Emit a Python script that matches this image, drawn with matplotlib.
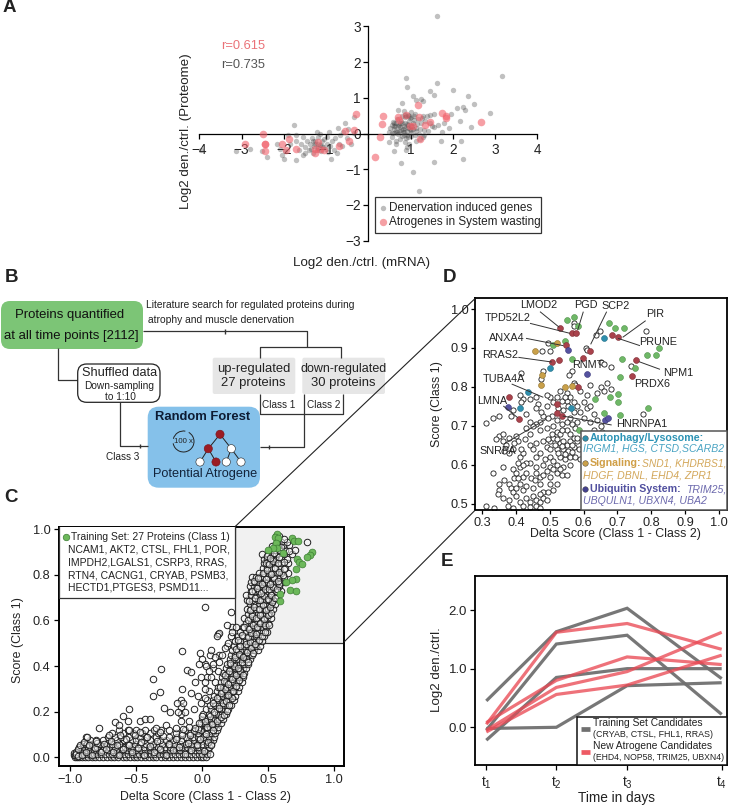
import matplotlib
matplotlib.use("Agg")
import matplotlib.pyplot as plt
from matplotlib.patches import FancyBboxPatch, Rectangle, Circle, Arc
import numpy as np

plt.rcParams['font.family'] = ['Liberation Sans', 'DejaVu Sans']
plt.rcParams['mathtext.default'] = 'regular'
W, H = 731, 806

# ---------- panel A ----------
a_gray = [(1.62,3.28),(3.17,1.62),(0.9,1.56),(1.63,1.42),(0.92,1.29),(1.47,1.2),(1.55,1.07),(2.0,1.22),(2.35,1.04),(2.5,0.83),
(2.25,0.74),(2.1,0.72),(2.28,0.65),(2.88,0.56),(2.18,0.35),(2.42,0.17),(1.05,1.06),(1.12,0.95),(1.25,0.97),(1.3,0.9),
(0.8,0.85),(0.7,0.66),(0.85,0.62),(1.0,0.6),(1.1,0.55),(1.3,0.5),(1.45,0.52),(1.55,0.55),(1.95,0.55),(1.65,0.25),
(1.5,0.2),(1.8,0.3),(1.9,0.15),(1.75,0.05),(1.72,-0.2),(2.2,-0.2),(2.25,-0.7),(1.55,-0.8),(0.78,-0.83),(1.05,-1.08),
(1.2,-1.62),(0.6,-0.5),(0.9,-0.45),(0.5,-0.25),(0.65,-0.3),(0.5,0.05),(0.52,0.15),(0.55,0.25),(0.58,0.33),(0.6,0.02),
(0.62,0.12),(0.63,0.22),(0.65,0.3),(0.68,0.4),(0.7,-0.02),(0.72,0.08),(0.74,0.18),(0.75,0.28),(0.77,0.36),(0.79,0.5),
(0.8,-0.06),(0.82,0.03),(0.83,0.12),(0.85,0.22),(0.86,0.3),(0.87,0.45),(0.88,0.52),(0.9,-0.12),(0.91,-0.03),(0.92,0.06),
(0.93,0.15),(0.95,0.25),(0.96,0.35),(0.97,0.5),(0.98,0.44),(1.0,-0.08),(1.01,0.02),(1.02,0.1),(1.04,0.2),(1.05,0.3),
(1.07,0.38),(1.08,0.5),(1.1,-0.04),(1.12,0.06),(1.14,0.16),(1.15,0.26),(1.17,0.4),(1.2,0.0),(1.22,0.12),(1.25,0.28),
(1.27,0.42),(1.3,-0.1),(1.32,0.1),(1.35,0.35),(1.38,0.48),(1.42,0.08),(1.45,0.28),(1.55,0.18),(0.55,-0.1),(0.66,-0.2),
(0.76,-0.16),(0.86,-0.25),(0.97,-0.3),(1.12,-0.2),(1.23,-0.15),(1.33,-0.05),(0.92,-0.38),(-3.95,-0.45),(-3.13,-0.5),(-2.8,-0.43),
(-2.52,-0.5),(-2.4,-0.65),(-2.15,-0.28),(-2.1,-0.42),(-2.05,-0.6),(-2.0,-0.7),(-1.9,-0.05),(-1.75,0.25),(-1.7,-0.2),(-1.7,-0.75),
(-1.85,-0.3),(-1.65,-0.45),(-1.6,-0.3),(-1.7,-0.05),(-1.55,-0.1),(-1.5,-0.55),(-1.5,-0.38),(-1.45,-0.2),(-1.4,-0.45),(-1.38,-0.3),
(-1.33,-0.12),(-1.3,-0.55),(-1.28,-0.35),(-1.25,-0.2),(-1.22,-0.45),(-1.2,-0.1),(-1.18,-0.3),(-1.15,-0.02),(-1.12,-0.48),(-1.1,-0.22),
(-1.08,-0.38),(-1.05,-0.15),(-1.0,-0.42),(-0.98,-0.28),(-0.97,-0.1),(-0.95,-0.52),(-0.92,0.05),(-0.9,-0.35),(-0.88,-0.72),(-0.85,-0.2),
(-0.8,-0.45),(-0.78,-0.12),(-0.75,-0.55),(-0.72,0.15),(-0.7,-0.28),(-0.67,-0.05),(-0.62,-0.35),(-0.6,0.05),(-0.55,0.28),(-0.5,-0.12),
(-0.48,0.12),(-0.42,-0.28),(-0.35,0.45),(-0.35,0.02),(-1.22,0.05),(-1.55,-0.6),(-1.98,-0.5),
(0.62,0.3),(0.66,0.08),(0.7,0.2),(0.8,0.3),(0.85,0.05),(0.88,0.14),(0.9,0.48),(0.95,0.53),(0.98,0.12),(1.0,0.22),
(0.72,0.25),(0.78,0.1),(0.92,0.26),(1.02,0.46),(1.06,0.12),(0.68,0.05),(0.84,-0.03),(0.95,-0.1),(0.6,0.2),(0.56,0.02),
(-1.25,-0.3),(-1.3,-0.2),(-1.2,-0.4),(-1.15,-0.32),(-1.35,-0.42),(-1.1,-0.36)]
a_red = [(2.67,0.33),(1.83,0.5),(1.85,0.43),(1.75,0.56),(1.18,0.8),(1.2,0.47),(1.45,0.33),(1.35,0.25),(1.05,0.22),(0.98,0.2),
(0.72,0.38),(0.7,0.45),(0.9,0.52),(0.35,0.5),(0.32,0.27),(0.28,-0.1),(0.16,-0.67),(1.22,-0.15),(-0.29,0.55),(-0.35,0.1),
(-0.55,0.08),(-0.45,-0.2),(-0.7,-0.36),(-1.25,-0.55),(-1.25,-0.42),(-1.2,-0.25),(-1.15,-0.42),(-1.7,-0.42),(-1.87,-0.15),(-2.05,-0.3),
(-2.45,-0.28),(-2.45,-0.5),(-2.45,-0.28),(-2.5,0.0),(-2.93,-0.3),(-1.95,-0.45),(-1.05,-0.45)]
a_ticks = [-4,-3,-2,-1,0,1,2,3,4]
a_yticks = [-3,-2,-1,0,1,2,3]

# ---------- panel C ----------
c_levels = [0.003,0.016,0.03,0.045,0.06,0.075,0.09,0.105,0.12,0.135,0.15,0.17,0.19,0.21,0.23,0.25,0.27,0.29,0.31,0.33,0.35,0.37,0.39,0.41,
0.43,0.45,0.47,0.49,0.51,0.53,0.55,0.57,0.59,0.61,0.63,0.65,0.67,0.69,0.71,0.73,0.75,0.77,0.79,0.81,0.83,0.85,0.87,0.89,0.91,0.93,0.945,0.97]
c_rows = [
[-0.96,-0.945,-0.93,-0.91,-0.885,-0.86,-0.83,-0.805,-0.775,-0.75,-0.72,-0.69,-0.665,-0.635,-0.6,-0.575,-0.545,-0.515,-0.49,-0.46,-0.43,-0.4,-0.37,-0.345,-0.31,-0.28,-0.25,-0.22,-0.19,-0.16,-0.13,-0.1,-0.07,-0.04,-0.01,0.01,0.03],
[-0.955,-0.925,-0.9,-0.87,-0.845,-0.815,-0.79,-0.76,-0.735,-0.7,-0.68,-0.65,-0.62,-0.59,-0.56,-0.53,-0.5,-0.475,-0.445,-0.415,-0.385,-0.36,-0.325,-0.295,-0.265,-0.235,-0.205,-0.175,-0.145,-0.115,-0.085,-0.055,-0.025,0.0,0.04],
[-0.94,-0.91,-0.88,-0.85,-0.82,-0.78,-0.755,-0.71,-0.67,-0.64,-0.605,-0.57,-0.54,-0.5,-0.46,-0.43,-0.39,-0.35,-0.31,-0.27,-0.24,-0.2,-0.17,-0.13,-0.09,-0.05,-0.02,0.02,0.045],
[-0.93,-0.895,-0.86,-0.82,-0.79,-0.74,-0.7,-0.66,-0.61,-0.58,-0.53,-0.48,-0.44,-0.4,-0.36,-0.33,-0.28,-0.24,-0.19,-0.15,-0.11,-0.06,-0.03,0.01,0.05],
[-0.9,-0.87,-0.83,-0.77,-0.72,-0.68,-0.63,-0.56,-0.51,-0.47,-0.42,-0.37,-0.3,-0.26,-0.21,-0.17,-0.12,-0.08,-0.04,0.0,0.04,0.07],
[-0.85,-0.8,-0.75,-0.7,-0.64,-0.59,-0.53,-0.5,-0.44,-0.39,-0.32,-0.27,-0.22,-0.16,-0.1,-0.06,-0.02,0.03,0.06,0.08],
[-0.88,-0.71,-0.66,-0.61,-0.55,-0.47,-0.42,-0.35,-0.25,-0.19,-0.12,-0.07,-0.03,0.01,0.05,0.09],
[-0.68,-0.6,-0.52,-0.45,-0.39,-0.33,-0.2,-0.15,-0.09,-0.03,0.02,0.07,0.1],
[-0.63,-0.56,-0.5,-0.36,-0.31,-0.13,-0.06,-0.01,0.04,0.08,0.11],
[-0.1,-0.02,0.03,0.06,0.09,0.12],
[-0.01,0.02,0.05,0.08,0.11,0.14],
[0.0,0.04,0.07,0.1,0.13,0.16],
[0.01,0.05,0.09,0.12,0.15,0.18],
[0.03,0.07,0.11,0.14,0.17,0.2],
[0.06,0.1,0.13,0.16,0.19,0.22],
[0.04,0.08,0.12,0.15,0.18,0.21,0.24],
[0.09,0.13,0.16,0.19,0.22,0.25],
[0.05,0.11,0.15,0.18,0.21,0.24,0.27],
[0.12,0.16,0.19,0.22,0.25,0.28],
[0.1,0.14,0.18,0.21,0.24,0.27,0.3],
[0.04,0.15,0.19,0.22,0.25,0.28,0.31],
[0.16,0.2,0.23,0.26,0.29,0.32],
[0.08,0.18,0.21,0.25,0.28,0.31,0.33],
[0.02,0.19,0.22,0.26,0.29,0.32,0.35],
[0.21,0.24,0.27,0.3,0.33,0.36],
[0.06,0.13,0.22,0.25,0.29,0.32,0.35,0.38],
[0.23,0.27,0.3,0.33,0.36,0.39,0.42],
[0.19,0.24,0.28,0.32,0.35,0.38,0.41,0.44],
[0.25,0.29,0.33,0.36,0.39,0.42,0.45],
[0.22,0.27,0.31,0.35,0.38,0.41,0.44,0.47],
[0.29,0.33,0.37,0.4,0.43,0.46,0.49],
[0.23,0.26,0.31,0.35,0.39,0.42,0.45,0.48],
[0.33,0.37,0.4,0.44,0.47,0.5],
[0.32,0.36,0.39,0.42,0.46,0.49,0.52],
[0.35,0.38,0.42,0.45,0.48,0.51],
[0.34,0.37,0.41,0.44,0.47,0.5,0.54],
[0.36,0.39,0.43,0.46,0.49,0.52,0.55],
[0.34,0.38,0.42,0.45,0.48,0.51,0.54],
[0.33,0.37,0.41,0.44,0.47,0.5,0.53,0.57],
[0.37,0.4,0.43,0.46,0.49,0.52,0.56,0.6],
[0.36,0.39,0.42,0.45,0.48,0.51,0.54,0.58],
[0.37,0.4,0.43,0.47,0.5,0.53,0.56,0.6,0.63],
[0.38,0.41,0.44,0.47,0.5,0.54,0.58,0.62],
[0.43,0.47,0.5,0.53,0.56,0.6,0.65],
[0.46,0.49,0.52,0.55,0.59,0.63],
[0.47,0.5,0.54,0.57,0.6,0.65],
[0.47,0.49,0.52,0.56,0.6,0.64],
[0.45,0.5,0.53,0.56,0.62,0.68],
[0.52,0.55,0.58,0.63,0.7],
[0.55,0.58,0.62,0.66],
[0.6,0.64,0.79],
[0.56,0.58]]
c_sparse = [(0.02,0.66),(0.22,0.635),(0.12,0.54),(0.13,0.545),(0.115,0.53),(-0.153,0.465),(-0.31,0.386),(-0.37,0.342),(-0.11,0.383),(-0.083,0.373),
(-0.37,0.27),(-0.315,0.285),(-0.15,0.3),(-0.08,0.28),(-0.55,0.213),(-0.594,0.18),(-0.557,0.16),(-0.78,0.13),(-0.657,0.153),(-0.625,0.142),
(-0.47,0.16),(-0.43,0.167),(-0.39,0.17),(-0.29,0.215),(-0.24,0.2),(-0.16,0.25),(-0.16,0.22),(-0.16,0.19),(-0.16,0.16),(-0.14,0.24),
(-0.13,0.2),(-0.18,0.2),(-0.19,0.24),(-0.015,0.456),(0.0,0.43),(-0.02,0.41),(0.03,0.4),(-0.01,0.35),(0.02,0.33),(0.05,0.38),
(0.07,0.35),(0.08,0.41),(0.02,0.3),(-0.03,0.27),(-0.01,0.24),(0.02,0.26),(-0.05,0.33),(0.07,0.47),(0.1,0.44),(0.13,0.42),
(0.15,0.45),(0.12,0.38),(0.17,0.48),(0.2,0.5),(0.19,0.58),(0.23,0.55),(-0.87,0.09),(-0.8,0.07),(-0.27,0.14),(-0.2,0.13),
(-0.1,0.16),(-0.05,0.13),(0.0,0.18),(-0.06,0.21),(-0.02,0.15),(-0.25,0.12),(-0.35,0.13),(-0.32,0.11),(-0.55,0.12),(-0.47,0.11)]
c_floor_extra = [(-0.97,0.012),(-0.965,0.02),(-0.96,0.01),(-0.955,0.024),(-0.95,0.016),(-0.94,0.008),(-0.94,0.038),(-0.925,0.052),(-0.905,0.012),(-0.89,0.068),
(-0.875,0.025),(-0.852,0.055),(-0.835,0.012),(-0.812,0.04),(-0.795,0.062),(-0.765,0.022),(-0.742,0.058),(-0.725,0.036),(-0.69,0.07),(-0.672,0.024),
(-0.645,0.052),(-0.625,0.012),(-0.598,0.036),(-0.578,0.082),(-0.552,0.056),(-0.53,0.022),(-0.508,0.098),(-0.485,0.042),(-0.46,0.068),(-0.438,0.012),
(-0.412,0.088),(-0.392,0.048),(-0.365,0.022),(-0.342,0.072),(-0.318,0.038),(-0.292,0.092),(-0.27,0.012),(-0.248,0.058),(-0.222,0.03),(-0.198,0.08),
(-0.175,0.044),(-0.15,0.098),(-0.128,0.014),(-0.105,0.064),(-0.082,0.034),(-0.06,0.114),(-0.038,0.052),(-0.012,0.082),(0.012,0.028),(0.028,0.104),
(0.045,0.066),(0.058,0.016),(0.068,0.052),(0.085,0.122),(-0.09,0.1),(-0.03,0.125),(-0.14,0.125),(-0.7,0.1),(-0.62,0.098),(-0.43,0.118)]
c_band_extra = [(0.04,0.135),(0.075,0.144),(0.11,0.16),(0.14,0.178),(0.165,0.186),(0.19,0.205),(0.025,0.16),(0.06,0.18),(0.09,0.2),(0.125,0.218),
(0.155,0.236),(0.18,0.246),(0.205,0.228),(0.225,0.262),(0.08,0.236),(0.115,0.26),(0.145,0.282),(0.17,0.3),(0.2,0.272),(0.235,0.292),
(0.255,0.312),(0.28,0.338),(0.135,0.31),(0.165,0.336),(0.195,0.322),(0.225,0.342),(0.26,0.362),(0.29,0.378),(0.31,0.362),(0.175,0.36),
(0.205,0.38),(0.24,0.4),(0.27,0.392),(0.3,0.416),(0.33,0.432),(0.345,0.418),(0.215,0.415),(0.25,0.438),(0.28,0.452),(0.31,0.44),
(0.34,0.462),(0.37,0.478),(0.385,0.458),(0.26,0.474),(0.29,0.49),(0.33,0.496),(0.365,0.506),(0.4,0.498),(0.43,0.514),(0.27,0.516),
(0.305,0.536),(0.345,0.528),(0.37,0.546),(0.41,0.54),(0.45,0.532),(0.475,0.548),(0.32,0.57),(0.355,0.562),(0.385,0.582),(0.415,0.57),
(0.44,0.59),(0.475,0.582),(0.505,0.578),(0.345,0.602),(0.38,0.618),(0.41,0.61),(0.44,0.622),(0.47,0.606),(0.5,0.622),(0.52,0.634),
(0.36,0.646),(0.395,0.66),(0.43,0.652),(0.46,0.668),(0.485,0.644),(0.515,0.66),(0.53,0.68),(0.355,0.686),(0.4,0.7),(0.435,0.688),
(0.465,0.706),(0.495,0.694),(0.525,0.712),(0.555,0.7),(0.38,0.728),(0.415,0.744),(0.445,0.722),(0.475,0.74),(0.505,0.736),(0.54,0.746),
(0.57,0.74),(0.585,0.762),(0.39,0.772),(0.42,0.786),(0.455,0.762),(0.485,0.78),(0.515,0.76),(0.545,0.784),(0.575,0.772),(0.61,0.798),
(0.46,0.806),(0.49,0.822),(0.525,0.804),(0.555,0.828),(0.585,0.812),(0.62,0.826),(0.48,0.852),(0.51,0.846),(0.54,0.862),(0.575,0.85),
(0.62,0.858),(0.49,0.884),(0.515,0.872),(0.545,0.896),(0.58,0.88),(0.6,0.92),(0.655,0.905),(0.53,0.925),(0.565,0.945),(0.62,0.955)]
c_green = [(.564,.978),(.552,.968),(.577,.96),(.559,.939),(.569,.917),(.539,.917),(.501,.909),(.61,.895),(.683,.963),(.698,.95),
(.728,.95),(.829,.899),(.816,.885),(.791,.88),(.715,.87),(.735,.858),(.758,.848),(.71,.826),(.71,.782),(.678,.778),
(.635,.77),(.589,.716),(.665,.734),(.71,.727),(.589,.687)]
c_text = ["Training Set: 27 Proteins (Class 1)", "NCAM1, AKT2, CTSL, FHL1, POR,", "IMPDH2,LGALS1, CSRP3, RRAS,",
          "RTN4, CACNG1, CRYAB, PSMB3,", "HECTD1,PTGES3, PSMD11..."]

# ---------- panel D ----------
d_green = [(.552,.971),(.572,.979),(.584,.956),(.676,.963),(.693,.95),(.72,.95),(.823,.899),(.813,.882),(.787,.881),(.713,.871),
(.752,.848),(.708,.826),(.565,.872),(.546,.919),(.508,.908),(.634,.769),(.678,.775),(.703,.782),(.703,.762),(.66,.732),
(.709,.728),(.792,.746),(.587,.689)]
d_red = [(.53,.951),(.565,.9375),(.577,.9375),(.684,.933),(.702,.927),(.619,.891),(.599,.873),(.547,.907),(.506,.864),(.528,.869),
(.754,.869),(.743,.827),(.584,.8),(.379,.775),(.407,.718),(.522,.756),(.52,.732),(.537,.726)]
d_teal = [(.66,.926),(.501,.848),(.434,.788),(.41,.746),(.562,.746)]
d_gold = [(.52,.912),(.455,.893),(.477,.83),(.473,.804),(.546,.8),(.564,.803)]
d_purple = [(.555,.896),(.611,.832),(.376,.749),(.663,.715),(.671,.721)]
d_open = [(.57,.963),(.572,.957),(.636,.933),(.648,.944),(.785,.944),(.495,.912),(.478,.891),(.501,.891),(.606,.901),(.609,.895),
(.652,.863),(.66,.86),(.681,.852),(.739,.854),(.414,.837),(.564,.842),(.556,.83),(.48,.84),(.475,.82),(.57,.81),
(.575,.805),(.62,.805),(.65,.8),(.66,.79),(.67,.81),(.68,.795),(.64,.785),(.61,.78),(.59,.79),(.55,.785),
(.53,.79),(.52,.775),(.5,.775),(.49,.78),(.46,.775),(.44,.77),(.42,.77),(.415,.76),(.41,.78),(.465,.755),
(.46,.745),(.49,.75),(.43,.73),(.385,.725),(.39,.74),(.33,.72),(.35,.725),(.31,.708),(.55,.765),(.56,.775),
(.57,.76),(.58,.75),(.6,.76),(.61,.745),(.62,.75),(.59,.735),(.6,.72),(.63,.73),(.62,.71),(.64,.715),
(.65,.7),(.58,.71),(.56,.72),(.54,.74),(.505,.725),(.495,.72),(.51,.7),(.47,.71),(.46,.705),(.45,.7),
(.43,.695),(.44,.68),(.47,.69),(.49,.695),(.52,.685),(.53,.68),(.55,.69),(.56,.68),(.575,.695),(.6,.68),
(.63,.69),(.655,.685),(.775,.73),(.35,.675),(.36,.68),(.34,.665),(.36,.66),(.38,.67),(.4,.675),(.37,.65),
(.39,.64),(.38,.63),(.41,.62),(.42,.63),(.44,.65),(.46,.655),(.45,.64),(.48,.66),(.5,.66),(.51,.67),
(.52,.665),(.53,.655),(.54,.66),(.55,.65),(.56,.66),(.57,.67),(.58,.66),(.49,.645),(.5,.64),(.52,.64),
(.54,.64),(.555,.635),(.57,.645),(.585,.64),(.47,.63),(.46,.62),(.485,.615),(.5,.62),(.51,.61),(.53,.62),
(.545,.615),(.56,.62),(.575,.62),(.59,.615),(.44,.605),(.46,.595),(.48,.6),(.5,.595),(.52,.6),(.54,.595),
(.56,.6),(.33,.58),(.36,.595),(.39,.59),(.41,.595),(.4,.58),(.395,.565),(.42,.57),(.43,.58),(.46,.58),
(.47,.57),(.48,.575),(.5,.57),(.52,.58),(.535,.575),(.55,.575),(.35,.55),(.35,.535),(.38,.55),(.385,.54),
(.39,.53),(.4,.54),(.41,.55),(.42,.535),(.43,.545),(.45,.54),(.47,.55),(.48,.53),(.5,.55),(.51,.535),
(.52,.55),(.345,.525),(.36,.515),(.4,.52),(.38,.51),(.41,.505),(.43,.515),(.44,.505),(.45,.52),(.46,.51),
(.47,.505),(.48,.515),(.49,.51),(.31,.495),(.335,.49),(.375,.495),(.39,.49),(.42,.495),(.44,.492),(.46,.495),(.47,.49),
(.535,.648),(.545,.628),(.525,.63),(.515,.652),(.565,.65),(.565,.632),(.58,.67),(.505,.68),(.495,.665),(.535,.69),
(.52,.715),(.535,.705),(.55,.71),(.565,.705),(.57,.735),(.555,.75),(.535,.765),(.545,.775),(.51,.76),(.525,.745),
(.48,.725),(.44,.71),(.475,.735),(.405,.66),(.395,.655),(.425,.665),(.415,.64),(.365,.635),(.43,.605),(.42,.6),
(.405,.605),(.445,.565),(.455,.56),(.49,.585),(.51,.59),(.53,.59),(.405,.565),(.365,.56),(.47,.525),(.495,.53)]
d_labels = ["LMOD2","PGD","SCP2","PIR","PRUNE","TPD52L2","ANXA4","RRAS2","RNMT","NPM1","PRDX6","TUBA4A","LMNA","HNRNPA1","SNRPA"]

# ---------- panel E ----------
e_t = [0, 1, 2.01, 3.36]
e_tlabels = ["t$_1$","t$_2$","t$_3$","t$_4$"]
e_gray = [[0.45,1.63,2.03,0.83],[-0.05,1.42,1.57,0.22],[-0.22,0.85,1.0,1.0],[-0.02,0.0,0.71,0.76]]
e_red = [[0.05,1.62,1.77,1.33],[0.08,0.8,1.2,1.07],[-0.05,0.68,0.95,1.62],[-0.08,0.56,0.72,1.23]]

TICK = 9.2
LAB = 8.95

fig = plt.figure(figsize=(W/100, H/100), dpi=100, facecolor='white')
def box(x0, y0, x1, y1, **k):
    return fig.add_axes([x0/W, 1-y1/H, (x1-x0)/W, (y1-y0)/H], **k)

# overlay in pixel coordinates
ov = fig.add_axes([0,0,1,1], zorder=10)
ov.set_xlim(0,W); ov.set_ylim(H,0); ov.axis('off'); ov.patch.set_alpha(0)
def T(x,y,s,size=8.7,ha='center',va='center',**k):
    return ov.text(x,y,s,fontsize=size,ha=ha,va=va,**k)
def L(xs,ys,c='#333333',lw=0.9,**k):
    ov.plot(xs,ys,color=c,lw=lw,solid_capstyle='butt',**k)

for s,x,y in [("A",9,8),("B",11,278),("C",11,498),("D",450,277),("E",447,561)]:
    T(x,y,s,size=13.5,fontweight='bold',color='#222222')

# ---- A ----
ax = box(199.3,26.3,537.3,240.7)
ax.set_xlim(-4,4); ax.set_ylim(-3,3); ax.patch.set_alpha(0)
for s in ('top','right'): ax.spines[s].set_visible(False)
ax.spines['left'].set_position('zero'); ax.spines['bottom'].set_position('zero')
for s in ('left','bottom'): ax.spines[s].set_linewidth(0.9)
ax.set_xticks(a_ticks); ax.set_yticks(a_yticks)
ax.set_xticklabels([str(v).replace('-','\u2212') if v else '' for v in a_ticks])
ax.set_yticklabels([str(v).replace('-','\u2212') for v in a_yticks])
ax.tick_params(labelsize=9.8,length=3.5,width=0.9,pad=2,labelcolor='#222222')
ax.tick_params(axis='x',pad=3.5)
g = np.array(a_gray); r = np.array(a_red)
ax.scatter(g[:,0],g[:,1],s=15,color='#3c3c3c',alpha=.32,lw=0,clip_on=False,zorder=3)
ax.scatter(r[:,0],r[:,1],s=30,color='#f0606a',alpha=.6,lw=0,clip_on=False,zorder=4)
T(362,263,"Log2 den./ctrl. (mRNA)",size=9.6,color='#222222')
T(186,131,"Log2 den./ctrl. (Proteome)",size=9.6,rotation=90,color='#222222')
T(221.5,46,"r=0.615",size=9.3,ha='left',color='#ea7278')
T(221.5,64.5,"r=0.735",size=9.3,ha='left',color='#555555')
ov.add_patch(Rectangle((374.5,196.7),166,36.6,fc='white',ec='#333333',lw=0.9,zorder=2))
ov.scatter([383.3],[207.7],s=15,color='#bdbdbd',lw=0,zorder=3)
ov.scatter([383.3],[222.3],s=28,color='#f5a0a4',lw=0,zorder=3)
T(389.3,207.7,"Denervation induced genes",size=8.45,ha='left',zorder=3,color='#222222')
T(389.3,222.3,"Atrogenes in System wasting",size=8.45,ha='left',zorder=3,color='#222222')

# ---- B ----
ov.add_patch(FancyBboxPatch((8,308),128,34,boxstyle="round,pad=7,rounding_size=9",fc='#7cc576',ec='none',zorder=1))
T(70,315,"Proteins quantified",size=9.45,color='#111111',zorder=3)
T(71.5,335.5,"at all time points [2112]",size=9.45,color='#111111',zorder=3)
T(145.5,305.5,"Literature search for regulated proteins during",size=7.4,ha='left',color='#222222')
T(148.5,320,"atrophy and muscle denervation",size=7.4,ha='left',color='#222222')
L([143,306.7,306.7],[331,331,346.7])
L([260,260,341,341],[358,346.7,346.7,358])
L([225,225],[328.5,333.5],lw=1)
for (x0,x1) in [(212.7,295.3),(302.3,385)]:
    ov.add_patch(FancyBboxPatch((x0+2,359.7),x1-x0-4,32.3,boxstyle="round,pad=2,rounding_size=2",fc='#e6e6e6',ec='none',zorder=1))
T(253.5,369,"up-regulated",size=9.4,color='#222222',zorder=3)
T(253.5,383,"27 proteins",size=9.4,color='#222222',zorder=3)
T(343.5,369,"down-regulated",size=9.0,color='#222222',zorder=3)
T(343.5,383,"30 proteins",size=9.4,color='#222222',zorder=3)
L([260,260,343,343],[394,414,414,394])
L([304.3,304.3,260],[394,446.7,446.7])
L([269,269],[444.5,449],lw=1)
T(279,405,"Class 1",size=7.2,color='#222222',zorder=3)
T(324,405,"Class 2",size=7.2,color='#222222',zorder=3)
L([58.3,58.3,78],[348,380.3,380.3])
ov.add_patch(FancyBboxPatch((85.7,372),66.3,22.3,boxstyle="round,pad=8,rounding_size=9",fc='white',ec='#222222',lw=0.9,zorder=2))
T(120,373,"Shuffled data",size=9.2,zorder=3,color='#222222')
T(119,386,"Down-sampling",size=7.3,zorder=3,color='#222222')
T(120.3,397,"to 1:10",size=7.3,zorder=3,color='#222222')
L([120.3,120.3,148],[402,446,446])
L([140,140],[443.8,448.2],lw=1)
T(123,457,"Class 3",size=7.2,color='#222222')
ov.add_patch(FancyBboxPatch((157.7,416.7),92.3,61,boxstyle="round,pad=10,rounding_size=11",fc='#85c1ea',ec='none',zorder=1))
T(203,417,"Random Forest",size=9.4,fontweight='bold',color='#0d1b33',zorder=3)
T(204.7,473.7,"Potential Atrogene",size=9.2,color='#12233a',zorder=3)
nodes = [(220,434.3,1),(208.3,448.7,1),(231.3,448.7,0),(200,462,0),(216,462,1),(226.3,462,0),(241,462,0)]
for a,b in [(0,1),(0,2),(1,3),(1,4),(2,5),(2,6)]:
    L([nodes[a][0],nodes[b][0]],[nodes[a][1],nodes[b][1]],c='#222222',lw=0.7,zorder=2)
for x,y,f in nodes:
    ov.add_patch(Circle((x,y),4.1,fc='#9b1c24' if f else 'white',ec='#222222' if not f else '#7a1018',lw=0.4,zorder=3))
ov.add_patch(Arc((183.5,441.5),21,21,theta1=-60,theta2=170,ec='#222222',lw=0.7,zorder=3))
ov.add_patch(Arc((183.5,441.5),21,21,theta1=195,theta2=280,ec='#222222',lw=0.7,zorder=3))
T(183.5,441.5,"100 x",size=5.6,zorder=3,color='#222222')

# ---- C ----
ax = box(58.7,526.7,344,766)
ax.set_xlim(-1.083,1.073); ax.set_ylim(-0.038,1.011)
ax.add_patch(Rectangle((0.249,0.5),1,0.6,fc='#f1f1f1',ec='#333333',lw=0.9,zorder=0))
cx = [x for y,row in zip(c_levels,c_rows) for x in row]
cy = [y for y,row in zip(c_levels,c_rows) for x in row]
kwc = dict(s=22,fc=(0.97,0.97,0.97,.5),ec='#1f1f1f',lw=0.7,zorder=2)
ax.scatter(cx,cy,**kwc)
for pts in (c_floor_extra,c_band_extra,c_sparse):
    p = np.array(pts)
    ax.scatter(p[:,0],p[:,1],**kwc)
gc = np.array(c_green)
ax.scatter(gc[:,0],gc[:,1],s=24,fc='#6cb85a',ec='#3c7d33',lw=0.5,zorder=3)
ax.add_patch(Rectangle((-1.083,0.7),1.332,0.4,fc='white',ec='#333333',lw=0.9,zorder=4))
ax.set_xticks([-1,-.5,0,.5,1]); ax.set_xticklabels(['\u22121.0','\u22120.5','0.0','0.5','1.0'])
ax.set_yticks([0,.2,.4,.6,.8,1]); ax.set_yticklabels(['0.0','0.2','0.4','0.6','0.8','1.0'])
ax.tick_params(labelsize=TICK,length=3.5,width=0.9,pad=2.5,labelcolor='#222222')
for sp in ax.spines.values(): sp.set_linewidth(1.4)
T(18.3,640,"Score (Class 1)",size=LAB,rotation=90,color='#222222')
T(205.7,797.3,"Delta Score (Class 1 - Class 2)",size=LAB,color='#222222')
ov.scatter([65.7],[537.3],s=22,fc='#6cb85a',ec='#3c7d33',lw=0.5,zorder=5)
for i,(t,y) in enumerate(zip(c_text,[537.3,549.7,562.3,575,587.7])):
    T(71.3 if i==0 else 68.3,y,t,size=7.5,ha='left',color='#222222')

# ---- connectors ----
L([235,475.3],[526.7,298.3],c='#222222',lw=0.8,zorder=1)
L([344,475.3],[642,510],c='#222222',lw=0.8,zorder=1)

# ---- D ----
ax = box(475.3,298.3,727.3,510)
ax.set_xlim(0.279,1.0255); ax.set_ylim(0.484,1.0275)
o = np.array(d_open)
ax.scatter(o[:,0],o[:,1],s=14,fc='white',ec='#1a1a1a',lw=0.6,zorder=2)
for pts,c,e in [(d_green,'#6fb867','#4e8f48'),(d_red,'#a9434c','#7d2a33'),(d_teal,'#2f8fad','#1f6c85'),(d_gold,'#c9a04a','#8f6f28'),(d_purple,'#55529f','#37357a')]:
    p = np.array(pts)
    ax.scatter(p[:,0],p[:,1],s=18,fc=c,ec=e,lw=0.4,zorder=3)
ax.set_xticks([.3,.4,.5,.6,.7,.8,.9,1.0]); ax.set_yticks([.5,.6,.7,.8,.9,1.0])
ax.set_xticklabels(['0.3','0.4','0.5','0.6','0.7','0.8','0.9','1.0'])
ax.set_yticklabels(['0.5','0.6','0.7','0.8','0.9','1.0'])
ax.tick_params(length=3,width=0.9,pad=2,labelsize=TICK,labelcolor='#222222')
for sp in ax.spines.values(): sp.set_linewidth(1.3)
T(437,404,"Score (Class 1)",size=LAB,rotation=90,color='#222222')
T(615.7,534,"Delta Score (Class 1 - Class 2)",size=LAB,color='#222222')
zx = lambda v: v/3+440
zy = lambda v: v/3+280
lab_pos = [(297,76),(437,76),(527,78),(645,102),(655,187),(203,115),(200,175),(180,226),(443,255),(716,280),(637,311),(193,297),(156,362),(605,432),(173,513)]
lab_lines = [((300,95),(358,142)),((430,95),(413,150)),((500,95),(452,193)),((617,122),(548,172)),((600,197),(534,175)),
             ((270,130),(390,160)),((258,175),(370,197)),((235,232),(335,246)),None,((660,268),(597,245)),None,
             ((215,312),(310,352)),((190,378),(233,413)),((515,435),(368,408)),((195,490),(318,418))]
for n,(px,py),ln in zip(d_labels,lab_pos,lab_lines):
    T(zx(px),zy(py),n,size=7.8,color='#222222')
    if ln: L([zx(ln[0][0]),zx(ln[1][0])],[zy(ln[0][1]),zy(ln[1][1])],c='#333333',lw=0.7)
ov.add_patch(Rectangle((580.7,430.7),146.6,79.3,fc='white',ec='#555555',lw=1.1,zorder=4))
for y,c in [(437.7,'#2f8fad'),(463,'#c9a04a'),(489.3,'#44418f')]:
    ov.scatter([585.3],[y],s=16,fc=c,ec='#333333',lw=0.3,zorder=5)
kw = dict(zorder=5)
T(589.5,437.7,"Autophagy/Lysosome:",size=7.7,ha='left',fontweight='bold',color='#2c93b5',**kw)
T(583.3,448.5,"IRGM1, HGS, CTSD,SCARB2",size=7.6,ha='left',style='italic',color='#4aa4c3',**kw)
T(589.3,463,"Signaling:",size=7.7,ha='left',fontweight='bold',color='#d09f47',**kw)
T(726.5,463,"SND1, KHDRBS1,",size=7.4,ha='right',style='italic',color='#d3a75a',**kw)
T(583.3,475,"HDGF, DBNL, EHD4, ZPR1",size=7.6,ha='left',style='italic',color='#d3a75a',**kw)
T(590.5,489.3,"Ubiquitin System:",size=7.7,ha='left',fontweight='bold',color='#51509f',**kw)
T(726,489.3,"TRIM25,",size=7.6,ha='right',style='italic',color='#6c69ad',**kw)
T(583.3,501,"UBQULN1, UBXN4, UBA2",size=7.6,ha='left',style='italic',color='#6c69ad',**kw)

# ---- E ----
ax = box(475.3,576,727.3,765)
ax.set_xlim(-0.157,3.44); ax.set_ylim(-0.643,2.58)
for v in e_gray: ax.plot(e_t,v,color='#707070',lw=2.3,alpha=.95,solid_joinstyle='miter',solid_capstyle='butt')
for v in e_red: ax.plot(e_t,v,color='#ea4a55',lw=2.3,alpha=.78,solid_joinstyle='miter',solid_capstyle='butt')
ax.set_xticks(e_t); ax.set_xticklabels(e_tlabels)
ax.set_yticks([0,1,2]); ax.set_yticklabels(['0.0','1.0','2.0'])
ax.tick_params(length=3.5,width=0.9,pad=2.5,labelsize=TICK+0.3,labelcolor='#222222')
ax.tick_params(axis='x',pad=3.5,labelsize=10)
for sp in ax.spines.values(): sp.set_linewidth(1.3)
T(437,670,"Log2 den./ctrl.",size=9.6,rotation=90,color='#222222')
T(616.7,797.7,"Time in days",size=9.8,color='#222222')
ov.add_patch(Rectangle((577.3,716.7),150,48.3,fc='white',ec='#111111',lw=1.1,zorder=4))
L([581,590],[729,729],c='#707070',lw=3.4,zorder=5)
L([581,590],[751.7,751.7],c='#ee5a64',lw=3.4,zorder=5)
T(592.7,723,"Training Set Candidates",size=7.4,ha='left',color='#222222',**kw)
T(592.7,734.7,"(CRYAB, CTSL, FHL1, RRAS)",size=6.4,ha='left',color='#222222',**kw)
T(592.7,746.3,"New Atrogene Candidates",size=7.4,ha='left',color='#222222',**kw)
T(592.7,757.7,"(EHD4, NOP58, TRIM25, UBXN4)",size=6.25,ha='left',color='#222222',**kw)

fig.savefig("out.png", dpi=100)
